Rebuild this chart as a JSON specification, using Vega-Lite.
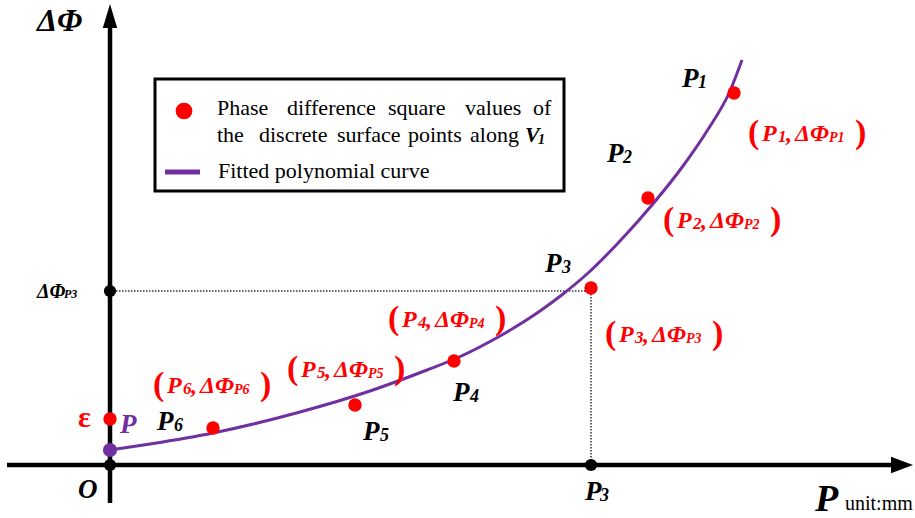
{
  "$schema": "https://vega.github.io/schema/vega-lite/v6.json",
  "width": 915,
  "height": 518,
  "autosize": {"type": "none"},
  "padding": 0,
  "background": "white",
  "config": {"view": {"stroke": null}},
  "datasets": {
    "curve": [
      {"u": 0, "v": 15}, {"u": 40, "v": 21}, {"u": 103, "v": 32}, {"u": 190, "v": 53},
      {"u": 260, "v": 74}, {"u": 317, "v": 95}, {"u": 347, "v": 107}, {"u": 390, "v": 129},
      {"u": 430, "v": 154}, {"u": 453, "v": 171}, {"u": 477, "v": 191}, {"u": 510, "v": 224},
      {"u": 542, "v": 260}, {"u": 573, "v": 299}, {"u": 597, "v": 334}, {"u": 620, "v": 374},
      {"u": 632, "v": 405}
    ],
    "samples": [
      {"u": 624, "v": 372, "name": "P1"}, {"u": 538, "v": 267, "name": "P2"},
      {"u": 481, "v": 177, "name": "P3"}, {"u": 344, "v": 104, "name": "P4"},
      {"u": 245, "v": 60, "name": "P5"}, {"u": 103, "v": 37, "name": "P6"},
      {"u": 0, "v": 46, "name": "epsilon"}
    ],
    "axisDots": [{"u": 0, "v": 0}, {"u": 0, "v": 174}, {"u": 481, "v": 0}],
    "labels": [
      {"u": -73, "v": 434, "t": "ΔΦ", "k": "ax"},
      {"u": 572, "v": 378, "t": "P", "k": "blk"}, {"u": 588, "v": 377, "t": "1", "k": "bsub"},
      {"u": 497, "v": 303, "t": "P", "k": "blk"}, {"u": 513, "v": 302, "t": "2", "k": "bsub"},
      {"u": 435, "v": 193, "t": "P", "k": "blk"}, {"u": 452, "v": 192, "t": "3", "k": "bsub"},
      {"u": 343, "v": 64, "t": "P", "k": "blk"}, {"u": 360, "v": 63, "t": "4", "k": "bsub"},
      {"u": 253, "v": 25, "t": "P", "k": "blk"}, {"u": 270, "v": 24, "t": "5", "k": "bsub"},
      {"u": 47, "v": 35, "t": "P", "k": "blk"}, {"u": 64, "v": 34, "t": "6", "k": "bsub"},
      {"u": -32, "v": -33, "t": "O", "k": "blk"},
      {"u": 475, "v": -35, "t": "P", "k": "blk"}, {"u": 490, "v": -36, "t": "3", "k": "bsub"},
      {"u": -73, "v": 167, "t": "ΔΦ", "k": "tick"}, {"u": -46, "v": 167, "t": "P3", "k": "tsub"},
      {"u": 705, "v": -46, "t": "P", "k": "unitP"}, {"u": 735, "v": -45, "t": "unit:mm", "k": "unit"},
      {"u": -32, "v": 38, "t": "ε", "k": "eps"},
      {"u": 10, "v": 32, "t": "P", "k": "pur"},

      {"u": 638, "v": 322, "t": "(", "k": "par"}, {"u": 652, "v": 324, "t": "P", "k": "red"},
      {"u": 668, "v": 323, "t": "1", "k": "rs1"}, {"u": 676, "v": 324, "t": ",", "k": "red"},
      {"u": 685, "v": 324, "t": "ΔΦ", "k": "red"}, {"u": 719, "v": 323, "t": "P1", "k": "rs2"},
      {"u": 745, "v": 322, "t": ")", "k": "par"},

      {"u": 553, "v": 235, "t": "(", "k": "par"}, {"u": 567, "v": 237, "t": "P", "k": "red"},
      {"u": 583, "v": 236, "t": "2", "k": "rs1"}, {"u": 591, "v": 237, "t": ",", "k": "red"},
      {"u": 600, "v": 237, "t": "ΔΦ", "k": "red"}, {"u": 634, "v": 236, "t": "P2", "k": "rs2"},
      {"u": 660, "v": 235, "t": ")", "k": "par"},

      {"u": 495, "v": 121, "t": "(", "k": "par"}, {"u": 509, "v": 123, "t": "P", "k": "red"},
      {"u": 525, "v": 122, "t": "3", "k": "rs1"}, {"u": 533, "v": 123, "t": ",", "k": "red"},
      {"u": 542, "v": 123, "t": "ΔΦ", "k": "red"}, {"u": 576, "v": 122, "t": "P3", "k": "rs2"},
      {"u": 602, "v": 121, "t": ")", "k": "par"},

      {"u": 278, "v": 136, "t": "(", "k": "par"}, {"u": 292, "v": 138, "t": "P", "k": "red"},
      {"u": 308, "v": 137, "t": "4", "k": "rs1"}, {"u": 316, "v": 138, "t": ",", "k": "red"},
      {"u": 325, "v": 138, "t": "ΔΦ", "k": "red"}, {"u": 359, "v": 137, "t": "P4", "k": "rs2"},
      {"u": 385, "v": 136, "t": ")", "k": "par"},

      {"u": 177, "v": 86, "t": "(", "k": "par"}, {"u": 191, "v": 88, "t": "P", "k": "red"},
      {"u": 207, "v": 87, "t": "5", "k": "rs1"}, {"u": 215, "v": 88, "t": ",", "k": "red"},
      {"u": 224, "v": 88, "t": "ΔΦ", "k": "red"}, {"u": 258, "v": 87, "t": "P5", "k": "rs2"},
      {"u": 284, "v": 86, "t": ")", "k": "par"},

      {"u": 43, "v": 70, "t": "(", "k": "par"}, {"u": 57, "v": 72, "t": "P", "k": "red"},
      {"u": 73, "v": 71, "t": "6", "k": "rs1"}, {"u": 81, "v": 72, "t": ",", "k": "red"},
      {"u": 90, "v": 72, "t": "ΔΦ", "k": "red"}, {"u": 124, "v": 71, "t": "P6", "k": "rs2"},
      {"u": 150, "v": 70, "t": ")", "k": "par"},

      {"u": 107, "v": 350, "t": "Phase", "k": "leg"}, {"u": 177, "v": 350, "t": "difference", "k": "leg"},
      {"u": 278, "v": 350, "t": "square", "k": "leg"}, {"u": 355, "v": 350, "t": "values", "k": "leg"},
      {"u": 423, "v": 350, "t": "of", "k": "leg"},
      {"u": 107, "v": 323, "t": "the", "k": "leg"}, {"u": 149, "v": 323, "t": "discrete", "k": "leg"},
      {"u": 227, "v": 323, "t": "surface", "k": "leg"}, {"u": 298, "v": 323, "t": "points", "k": "leg"},
      {"u": 360, "v": 323, "t": "along", "k": "leg"}, {"u": 415, "v": 323, "t": "V", "k": "legV"},
      {"u": 428, "v": 321, "t": "1", "k": "legS"},
      {"u": 108, "v": 287, "t": "Fitted polynomial curve", "k": "leg"}
    ]
  },
  "encoding": {
    "x": {"field": "u", "type": "quantitative", "scale": {"domain": [-110, 805], "nice": false, "zero": false}, "axis": null},
    "y": {"field": "v", "type": "quantitative", "scale": {"domain": [-53, 465], "nice": false, "zero": false}, "axis": null}
  },
  "layer": [
    {
      "description": "coordinate axes",
      "data": {"values": [{"u": -103, "v": 0, "u2": 782, "v2": 0}, {"u": 0, "v": -38, "u2": 0, "v2": 438}]},
      "mark": {"type": "rule", "color": "black", "strokeWidth": 4.5},
      "encoding": {"x2": {"field": "u2"}, "y2": {"field": "v2"}}
    },
    {
      "description": "arrowhead on the vertical axis",
      "data": {"values": [{"u": 0, "v": 449}]},
      "mark": {"type": "point", "shape": "M0,-1L0.6,1L-0.6,1Z", "size": 576, "filled": true, "color": "black", "opacity": 1, "strokeWidth": 0}
    },
    {
      "description": "arrowhead on the horizontal axis",
      "data": {"values": [{"u": 792, "v": 0}]},
      "mark": {"type": "point", "shape": "M1,0L-1,-0.75L-1,0.75Z", "size": 484, "filled": true, "color": "black", "opacity": 1, "strokeWidth": 0}
    },
    {
      "description": "dotted projections of P3",
      "data": {"values": [{"u": 0, "v": 174, "u2": 481, "v2": 174}, {"u": 481, "v": 174, "u2": 481, "v2": 0}]},
      "mark": {"type": "rule", "color": "#333333", "strokeWidth": 1.5, "strokeDash": [1.5, 1.5]},
      "encoding": {"x2": {"field": "u2"}, "y2": {"field": "v2"}}
    },
    {
      "description": "fitted polynomial curve",
      "data": {"name": "curve"},
      "mark": {"type": "line", "color": "#7030A0", "strokeWidth": 3, "interpolate": "monotone"},
      "encoding": {"order": {"field": "u", "type": "quantitative"}}
    },
    {
      "data": {"name": "axisDots"},
      "mark": {"type": "point", "shape": "circle", "size": 150, "filled": true, "color": "black", "opacity": 1, "strokeWidth": 0}
    },
    {
      "data": {"name": "samples"},
      "mark": {"type": "point", "shape": "circle", "size": 180, "filled": true, "color": "#FF0000", "opacity": 1, "strokeWidth": 0}
    },
    {
      "description": "curve start point P",
      "data": {"values": [{"u": 0, "v": 15}]},
      "mark": {"type": "point", "shape": "circle", "size": 200, "filled": true, "color": "#7030A0", "opacity": 1, "strokeWidth": 0}
    },
    {
      "description": "legend frame",
      "data": {"values": [{"u": 45, "u2": 454, "v": 386, "v2": 274}]},
      "mark": {"type": "rect", "fill": "white", "stroke": "black", "strokeWidth": 3},
      "encoding": {"x2": {"field": "u2"}, "y2": {"field": "v2"}}
    },
    {
      "description": "legend symbol for the samples",
      "data": {"values": [{"u": 74, "v": 354}]},
      "mark": {"type": "point", "shape": "circle", "size": 280, "filled": true, "color": "#FF0000", "opacity": 1, "strokeWidth": 0}
    },
    {
      "description": "legend symbol for the curve",
      "data": {"values": [{"u": 55, "u2": 90, "v": 293}]},
      "mark": {"type": "rule", "color": "#7030A0", "strokeWidth": 5},
      "encoding": {"x2": {"field": "u2"}}
    },
    {
      "description": "bold italic labels",
      "data": {"name": "labels"},
      "transform": [{"filter": {"field": "k", "oneOf": ["ax", "blk", "bsub", "tick", "tsub", "red", "rs1", "rs2", "legV", "legS", "unitP", "pur"]}}],
      "mark": {"type": "text", "font": "Liberation Serif", "fontStyle": "italic", "fontWeight": "bold", "align": "left", "baseline": "alphabetic"},
      "encoding": {
        "text": {"field": "t"},
        "size": {"field": "k", "type": "ordinal", "legend": null,
          "scale": {"type": "ordinal",
            "domain": ["ax", "blk", "bsub", "tick", "tsub", "red", "rs1", "rs2", "par", "leg", "legV", "legS", "unitP", "unit", "eps", "pur"],
            "range": [32, 27, 18, 20, 12, 24, 17, 14, 34, 22, 22, 14, 38, 20, 30, 27]}},
        "color": {"field": "k", "type": "nominal", "legend": null,
          "scale": {
            "domain": ["ax", "blk", "bsub", "tick", "tsub", "red", "rs1", "rs2", "par", "leg", "legV", "legS", "unitP", "unit", "eps", "pur"],
            "range": ["black", "black", "black", "black", "black", "#FF0000", "#FF0000", "#FF0000", "#FF0000", "black", "black", "black", "black", "black", "#FF0000", "#7030A0"]}}
      }
    },
    {
      "description": "regular labels",
      "data": {"name": "labels"},
      "transform": [{"filter": {"field": "k", "oneOf": ["leg", "unit"]}}],
      "mark": {"type": "text", "font": "Liberation Serif", "align": "left", "baseline": "alphabetic", "color": "black"},
      "encoding": {
        "text": {"field": "t"},
        "size": {"field": "k", "type": "ordinal", "legend": null,
          "scale": {"type": "ordinal",
            "domain": ["ax", "blk", "bsub", "tick", "tsub", "red", "rs1", "rs2", "par", "leg", "legV", "legS", "unitP", "unit", "eps", "pur"],
            "range": [32, 27, 18, 20, 12, 24, 17, 14, 34, 22, 22, 14, 38, 20, 30, 27]}}
      }
    },
    {
      "description": "bold upright labels",
      "data": {"name": "labels"},
      "transform": [{"filter": {"field": "k", "oneOf": ["par", "eps"]}}],
      "mark": {"type": "text", "font": "Liberation Serif", "fontWeight": "bold", "align": "left", "baseline": "alphabetic", "color": "#FF0000"},
      "encoding": {
        "text": {"field": "t"},
        "size": {"field": "k", "type": "ordinal", "legend": null,
          "scale": {"type": "ordinal",
            "domain": ["ax", "blk", "bsub", "tick", "tsub", "red", "rs1", "rs2", "par", "leg", "legV", "legS", "unitP", "unit", "eps", "pur"],
            "range": [32, 27, 18, 20, 12, 24, 17, 14, 34, 22, 22, 14, 38, 20, 30, 27]}}
      }
    }
  ]
}
